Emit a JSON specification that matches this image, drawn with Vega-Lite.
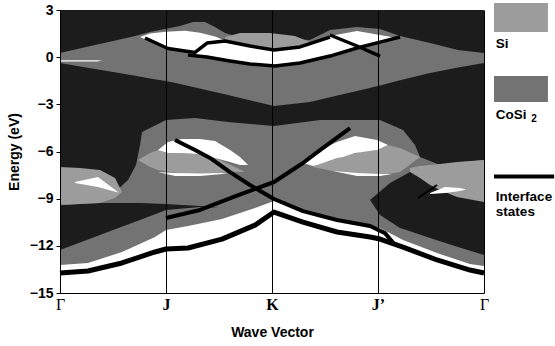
{
  "$schema": "https://vega.github.io/schema/vega-lite/v6.json",
  "padding": {"left": 7, "top": 3, "right": 0, "bottom": 0},
  "background": "white",
  "config": {
    "view": {"stroke": null},
    "font": "Liberation Sans",
    "axis": {"labelColor": "black", "titleColor": "black", "domainColor": "black", "tickColor": "black"}
  },
  "datasets": {
    "regions": [
      {"r":"bg","kind":"bg","k":0,"e":3,"e2":-15},{"r":"bg","kind":"bg","k":4,"e":3,"e2":-15},

      {"r":"cup","kind":"cosi","k":0,"e":0.27,"e2":-0.37},
      {"r":"cup","kind":"cosi","k":0.245,"e":0.65,"e2":-0.66},
      {"r":"cup","kind":"cosi","k":0.5,"e":1.03,"e2":-0.94},
      {"r":"cup","kind":"cosi","k":0.708,"e":1.35,"e2":-1.18},
      {"r":"cup","kind":"cosi","k":0.849,"e":1.60,"e2":-1.35},
      {"r":"cup","kind":"cosi","k":1.0,"e":1.80,"e2":-1.52},
      {"r":"cup","kind":"cosi","k":1.132,"e":1.98,"e2":-1.71},
      {"r":"cup","kind":"cosi","k":1.255,"e":2.24,"e2":-1.90},
      {"r":"cup","kind":"cosi","k":1.368,"e":2.24,"e2":-2.07},
      {"r":"cup","kind":"cosi","k":1.462,"e":1.92,"e2":-2.21},
      {"r":"cup","kind":"cosi","k":1.557,"e":1.54,"e2":-2.36},
      {"r":"cup","kind":"cosi","k":1.651,"e":1.35,"e2":-2.51},
      {"r":"cup","kind":"cosi","k":2.019,"e":1.22,"e2":-3.11},
      {"r":"cup","kind":"cosi","k":2.358,"e":1.09,"e2":-2.85},
      {"r":"cup","kind":"cosi","k":2.547,"e":1.73,"e2":-2.55},
      {"r":"cup","kind":"cosi","k":2.802,"e":1.92,"e2":-2.15},
      {"r":"cup","kind":"cosi","k":3.019,"e":1.79,"e2":-1.80},
      {"r":"cup","kind":"cosi","k":3.208,"e":1.35,"e2":-1.47},
      {"r":"cup","kind":"cosi","k":3.491,"e":0.90,"e2":-1.01},
      {"r":"cup","kind":"cosi","k":3.755,"e":0.46,"e2":-0.65},
      {"r":"cup","kind":"cosi","k":4.0,"e":0.27,"e2":-0.37},

      {"r":"cbig","kind":"cosi","k":0,"e":-9.40,"e2":-14},
      {"r":"cbig","kind":"cosi","k":0.377,"e":-9.09,"e2":-14},
      {"r":"cbig","kind":"cosi","k":0.519,"e":-8.58,"e2":-14},
      {"r":"cbig","kind":"cosi","k":0.642,"e":-7.81,"e2":-14},
      {"r":"cbig","kind":"cosi","k":0.717,"e":-6.86,"e2":-14},
      {"r":"cbig","kind":"cosi","k":0.755,"e":-5.59,"e2":-14},
      {"r":"cbig","kind":"cosi","k":0.774,"e":-4.76,"e2":-14},
      {"r":"cbig","kind":"cosi","k":1.0,"e":-4.00,"e2":-14},
      {"r":"cbig","kind":"cosi","k":1.274,"e":-3.87,"e2":-14},
      {"r":"cbig","kind":"cosi","k":1.585,"e":-4.12,"e2":-14},
      {"r":"cbig","kind":"cosi","k":2.019,"e":-4.38,"e2":-14},
      {"r":"cbig","kind":"cosi","k":2.453,"e":-4.00,"e2":-14},
      {"r":"cbig","kind":"cosi","k":3.019,"e":-4.00,"e2":-14},
      {"r":"cbig","kind":"cosi","k":3.236,"e":-4.63,"e2":-14},
      {"r":"cbig","kind":"cosi","k":3.349,"e":-5.59,"e2":-14},
      {"r":"cbig","kind":"cosi","k":3.396,"e":-6.35,"e2":-14},
      {"r":"cbig","kind":"cosi","k":3.585,"e":-6.86,"e2":-14},
      {"r":"cbig","kind":"cosi","k":4.0,"e":-6.54,"e2":-14},

      {"r":"lw","kind":"lw","k":0,"e":-13.22,"e2":-15},
      {"r":"lw","kind":"lw","k":0.264,"e":-13.09,"e2":-15},
      {"r":"lw","kind":"lw","k":0.585,"e":-12.39,"e2":-15},
      {"r":"lw","kind":"lw","k":0.896,"e":-11.44,"e2":-15},
      {"r":"lw","kind":"lw","k":1.0,"e":-10.99,"e2":-15},
      {"r":"lw","kind":"lw","k":1.208,"e":-10.74,"e2":-15},
      {"r":"lw","kind":"lw","k":1.528,"e":-10.30,"e2":-15},
      {"r":"lw","kind":"lw","k":1.840,"e":-9.60,"e2":-15},
      {"r":"lw","kind":"lw","k":2.019,"e":-9.15,"e2":-15},
      {"r":"lw","kind":"lw","k":2.292,"e":-9.79,"e2":-15},
      {"r":"lw","kind":"lw","k":2.613,"e":-10.36,"e2":-15},
      {"r":"lw","kind":"lw","k":2.925,"e":-10.74,"e2":-15},
      {"r":"lw","kind":"lw","k":3.019,"e":-10.87,"e2":-15},
      {"r":"lw","kind":"lw","k":3.236,"e":-11.63,"e2":-15},
      {"r":"lw","kind":"lw","k":3.557,"e":-12.46,"e2":-15},
      {"r":"lw","kind":"lw","k":3.868,"e":-13.16,"e2":-15},
      {"r":"lw","kind":"lw","k":4.0,"e":-13.28,"e2":-15},

      {"r":"dlow","kind":"dark","k":0,"e":-9.40,"e2":-12.27},
      {"r":"dlow","kind":"dark","k":0.377,"e":-9.28,"e2":-11.31},
      {"r":"dlow","kind":"dark","k":0.5,"e":-9.28,"e2":-10.99},
      {"r":"dlow","kind":"dark","k":0.755,"e":-9.28,"e2":-10.36},
      {"r":"dlow","kind":"dark","k":1.0,"e":-9.34,"e2":-9.72},
      {"r":"dlow","kind":"dark","k":1.321,"e":-9.47,"e2":-9.53},
      {"r":"dlow","kind":"dark","k":1.509,"e":-9.56,"e2":-9.56},
      {"r":"dright","kind":"dark","k":2.925,"e":-9.09,"e2":-9.09},
      {"r":"dright","kind":"dark","k":3.019,"e":-8.55,"e2":-10.04},
      {"r":"dright","kind":"dark","k":3.113,"e":-8.01,"e2":-10.45},
      {"r":"dright","kind":"dark","k":3.208,"e":-7.66,"e2":-10.87},
      {"r":"dright","kind":"dark","k":3.302,"e":-7.31,"e2":-11.08},
      {"r":"dright","kind":"dark","k":3.491,"e":-7.13,"e2":-11.50},
      {"r":"dright","kind":"dark","k":3.585,"e":-7.05,"e2":-11.71},
      {"r":"dright","kind":"dark","k":3.755,"e":-6.99,"e2":-12.08},
      {"r":"dright","kind":"dark","k":4.0,"e":-6.86,"e2":-12.58},

      {"r":"sitop","kind":"si","k":1.557,"e":1.28,"e2":1.03},
      {"r":"sitop","kind":"si","k":1.698,"e":1.54,"e2":0.84},
      {"r":"sitop","kind":"si","k":1.981,"e":1.54,"e2":0.46},
      {"r":"sitop","kind":"si","k":2.217,"e":1.35,"e2":0.46},
      {"r":"sitop","kind":"si","k":2.406,"e":0.84,"e2":0.84},
      {"r":"si0","kind":"si","k":0,"e":-6.99,"e2":-9.40},
      {"r":"si0","kind":"si","k":0.189,"e":-7.05,"e2":-9.34},
      {"r":"si0","kind":"si","k":0.377,"e":-7.18,"e2":-9.28},
      {"r":"si0","kind":"si","k":0.519,"e":-7.69,"e2":-8.96},
      {"r":"si0","kind":"si","k":0.585,"e":-8.58,"e2":-8.58},
      {"r":"si1","kind":"si","k":0.736,"e":-6.54,"e2":-6.54},
      {"r":"si1","kind":"si","k":0.849,"e":-6.10,"e2":-6.99},
      {"r":"si1","kind":"si","k":0.925,"e":-5.91,"e2":-7.18},
      {"r":"si1","kind":"si","k":1.038,"e":-5.91,"e2":-7.31},
      {"r":"si1","kind":"si","k":1.226,"e":-6.03,"e2":-7.43},
      {"r":"si1","kind":"si","k":1.368,"e":-6.22,"e2":-7.43},
      {"r":"si1","kind":"si","k":1.509,"e":-6.54,"e2":-7.37},
      {"r":"si1","kind":"si","k":1.651,"e":-6.99,"e2":-7.31},
      {"r":"si1","kind":"si","k":1.745,"e":-7.31,"e2":-7.31},
      {"r":"si2","kind":"si","k":2.387,"e":-6.92,"e2":-6.99},
      {"r":"si2","kind":"si","k":2.613,"e":-6.41,"e2":-7.31},
      {"r":"si2","kind":"si","k":2.830,"e":-6.03,"e2":-7.50},
      {"r":"si2","kind":"si","k":2.991,"e":-5.91,"e2":-7.50},
      {"r":"si2","kind":"si","k":3.094,"e":-5.59,"e2":-7.43},
      {"r":"si2","kind":"si","k":3.208,"e":-5.78,"e2":-7.31},
      {"r":"si2","kind":"si","k":3.396,"e":-6.35,"e2":-6.35},
      {"r":"si3","kind":"si","k":3.302,"e":-7.05,"e2":-7.31},
      {"r":"si3","kind":"si","k":3.396,"e":-6.92,"e2":-7.69},
      {"r":"si3","kind":"si","k":3.491,"e":-6.86,"e2":-8.13},
      {"r":"si3","kind":"si","k":3.585,"e":-6.80,"e2":-8.45},
      {"r":"si3","kind":"si","k":3.745,"e":-6.67,"e2":-8.90},
      {"r":"si3","kind":"si","k":4.0,"e":-6.54,"e2":-9.21},

      {"r":"wtop","kind":"white","k":0.755,"e":1.28,"e2":1.28},
      {"r":"wtop","kind":"white","k":0.849,"e":1.50,"e2":1.00},
      {"r":"wtop","kind":"white","k":1.0,"e":1.62,"e2":0.58},
      {"r":"wtop","kind":"white","k":1.179,"e":1.68,"e2":0.33},
      {"r":"wtop","kind":"white","k":1.321,"e":1.56,"e2":0.07},
      {"r":"wtop","kind":"white","k":1.462,"e":1.32,"e2":-0.05},
      {"r":"wtop","kind":"white","k":1.557,"e":1.06,"e2":-0.15},
      {"r":"wtop","kind":"white","k":1.792,"e":0.71,"e2":-0.37},
      {"r":"wtop","kind":"white","k":2.019,"e":0.46,"e2":-0.56},
      {"r":"wtop","kind":"white","k":2.264,"e":0.65,"e2":-0.37},
      {"r":"wtop","kind":"white","k":2.547,"e":1.35,"e2":0.07},
      {"r":"wtop","kind":"white","k":2.802,"e":1.66,"e2":0.58},
      {"r":"wtop","kind":"white","k":3.019,"e":1.41,"e2":0.96},
      {"r":"wtop","kind":"white","k":3.179,"e":1.22,"e2":1.22},
      {"r":"wl0","kind":"white","k":0,"e":-0.20,"e2":-0.27},
      {"r":"wl0","kind":"white","k":0.35,"e":-0.20,"e2":-0.27},
      {"r":"wl0","kind":"white","k":0.4,"e":-0.235,"e2":-0.235},
      {"r":"wmid1","kind":"white","k":0.925,"e":-5.91,"e2":-5.91},
      {"r":"wmid1","kind":"white","k":1.019,"e":-5.40,"e2":-6.10},
      {"r":"wmid1","kind":"white","k":1.151,"e":-5.21,"e2":-6.10},
      {"r":"wmid1","kind":"white","k":1.321,"e":-5.21,"e2":-6.16},
      {"r":"wmid1","kind":"white","k":1.462,"e":-5.33,"e2":-6.41},
      {"r":"wmid1","kind":"white","k":1.604,"e":-5.91,"e2":-6.67},
      {"r":"wmid1","kind":"white","k":1.698,"e":-6.35,"e2":-6.86},
      {"r":"wmid1","kind":"white","k":1.774,"e":-6.86,"e2":-6.86},
      {"r":"wmid2","kind":"white","k":2.292,"e":-6.61,"e2":-6.73},
      {"r":"wmid2","kind":"white","k":2.387,"e":-6.22,"e2":-6.92},
      {"r":"wmid2","kind":"white","k":2.453,"e":-5.91,"e2":-6.80},
      {"r":"wmid2","kind":"white","k":2.613,"e":-5.40,"e2":-6.41},
      {"r":"wmid2","kind":"white","k":2.670,"e":-5.27,"e2":-6.35},
      {"r":"wmid2","kind":"white","k":2.783,"e":-5.02,"e2":-6.10},
      {"r":"wmid2","kind":"white","k":2.991,"e":-5.27,"e2":-5.91},
      {"r":"wmid2","kind":"white","k":3.094,"e":-5.59,"e2":-5.59},
      {"r":"wtri","kind":"white","k":0.142,"e":-7.94,"e2":-8.01},
      {"r":"wtri","kind":"white","k":0.358,"e":-7.62,"e2":-8.26},
      {"r":"wtri","kind":"white","k":0.547,"e":-8.58,"e2":-8.61},
      {"r":"wtri2","kind":"white","k":3.491,"e":-8.64,"e2":-8.70},
      {"r":"wtri2","kind":"white","k":3.632,"e":-8.26,"e2":-8.64},
      {"r":"wtri2","kind":"white","k":3.774,"e":-8.32,"e2":-8.51},
      {"r":"wtri2","kind":"white","k":3.83,"e":-8.42,"e2":-8.42},
      {"r":"slv1","kind":"white","k":0.925,"e":-7.31,"e2":-7.31},
      {"r":"slv1","kind":"white","k":1.085,"e":-7.37,"e2":-7.56},
      {"r":"slv1","kind":"white","k":1.321,"e":-7.40,"e2":-7.56},
      {"r":"slv1","kind":"white","k":1.509,"e":-7.37,"e2":-7.45},
      {"r":"slv1","kind":"white","k":1.585,"e":-7.40,"e2":-7.40},
      {"r":"slv2","kind":"white","k":2.575,"e":-7.24,"e2":-7.24},
      {"r":"slv2","kind":"white","k":2.802,"e":-7.37,"e2":-7.56},
      {"r":"slv2","kind":"white","k":3.019,"e":-7.43,"e2":-7.56},
      {"r":"slv2","kind":"white","k":3.132,"e":-7.43,"e2":-7.43}
    ],
    "lines": [
      {"line":"LL","k":0,"e":-13.73},{"line":"LL","k":0.264,"e":-13.60},{"line":"LL","k":0.585,"e":-13.09},
      {"line":"LL","k":0.896,"e":-12.39},{"line":"LL","k":1.0,"e":-12.20},{"line":"LL","k":1.208,"e":-12.14},
      {"line":"LL","k":1.528,"e":-11.57},{"line":"LL","k":1.840,"e":-10.68},{"line":"LL","k":2.019,"e":-9.85},
      {"line":"LL","k":2.292,"e":-10.49},{"line":"LL","k":2.613,"e":-11.12},{"line":"LL","k":2.925,"e":-11.44},
      {"line":"LL","k":3.019,"e":-11.57},{"line":"LL","k":3.236,"e":-12.08},{"line":"LL","k":3.557,"e":-12.90},
      {"line":"LL","k":3.868,"e":-13.54},{"line":"LL","k":4.0,"e":-13.73},
      {"line":"LU","k":1.085,"e":-5.27},{"line":"LU","k":1.274,"e":-5.91},{"line":"LU","k":1.415,"e":-6.41},
      {"line":"LU","k":1.604,"e":-7.31},{"line":"LU","k":1.792,"e":-8.13},{"line":"LU","k":2.019,"e":-9.02},
      {"line":"LU","k":2.292,"e":-9.79},{"line":"LU","k":2.613,"e":-10.36},{"line":"LU","k":2.925,"e":-10.74},
      {"line":"LU","k":3.066,"e":-11.19},{"line":"LU","k":3.15,"e":-11.85},
      {"line":"LX","k":1.0,"e":-10.23},{"line":"LX","k":1.321,"e":-9.72},{"line":"LX","k":1.632,"e":-8.90},
      {"line":"LX","k":2.019,"e":-7.94},{"line":"LX","k":2.292,"e":-6.73},{"line":"LX","k":2.453,"e":-5.91},
      {"line":"LX","k":2.736,"e":-4.51},
      {"line":"L1","k":0.802,"e":1.22},{"line":"L1","k":1.019,"e":0.55},{"line":"L1","k":1.274,"e":0.30},
      {"line":"L1","k":1.387,"e":0.90},{"line":"L1","k":1.557,"e":1.03},{"line":"L1","k":1.792,"e":0.71},
      {"line":"L1","k":2.019,"e":0.46},{"line":"L1","k":2.264,"e":0.65},{"line":"L1","k":2.547,"e":1.28},
      {"line":"L2","k":1.208,"e":0.14},{"line":"L2","k":1.387,"e":0.01},{"line":"L2","k":1.604,"e":-0.24},
      {"line":"L2","k":1.792,"e":-0.43},{"line":"L2","k":2.028,"e":-0.56},{"line":"L2","k":2.264,"e":-0.37},
      {"line":"L2","k":2.547,"e":0.07},{"line":"L2","k":2.802,"e":0.58},{"line":"L2","k":3.019,"e":0.96},
      {"line":"L2","k":3.208,"e":1.28},
      {"line":"LB","k":2.547,"e":1.41},{"line":"LB","k":2.802,"e":0.71},{"line":"LB","k":3.019,"e":0.07},
      {"line":"thin","k":3.377,"e":-8.96},{"line":"thin","k":3.557,"e":-8.13}
    ]
  },
  "hconcat": [
    {
      "width": 424,
      "height": 283,
      "encoding": {
        "x": {
          "field": "k", "type": "quantitative",
          "scale": {"domain": [0, 4], "nice": false, "zero": false},
          "axis": {
            "values": [0, 1, 2, 3, 4],
            "labelExpr": "['Γ','J','K','J’','Γ'][datum.value]",
            "labelFont": "Liberation Serif", "labelFontSize": 16,
            "labelFontWeight": {"condition": {"test": "datum.value == 0 || datum.value == 4", "value": "normal"}, "value": "bold"},
            "labelPadding": 3, "ticks": false, "domain": true, "domainWidth": 1,
            "grid": true, "gridColor": "black", "gridOpacity": 1, "gridWidth": 1,
            "zindex": 1, "labelFlush": false,
            "title": "Wave Vector", "titleFont": "Liberation Sans", "titleFontSize": 14, "titleFontWeight": "bold", "titlePadding": 13
          }
        },
        "y": {
          "field": "e", "type": "quantitative",
          "scale": {"domain": [-15, 3], "nice": false, "zero": false},
          "axis": {
            "values": [3, 0, -3, -6, -9, -12, -15],
            "title": "Energy (eV)", "titleFontSize": 14, "titleFontWeight": "bold", "titlePadding": 8,
            "labelFontSize": 14, "labelFontWeight": "bold", "labelPadding": 3, "tickSize": 4,
            "grid": false, "zindex": 1, "labelFlush": false
          }
        }
      },
      "layer": [
        {"data": {"name": "regions"}, "transform": [{"filter": "datum.kind === 'bg'"}],
         "mark": {"type": "area", "color": "#1c1c1c", "opacity": 1},
         "encoding": {"y2": {"field": "e2"}, "detail": {"field": "r"}}},
        {"data": {"name": "regions"}, "transform": [{"filter": "datum.kind === 'cosi'"}],
         "mark": {"type": "area", "color": "#737373", "opacity": 1},
         "encoding": {"y2": {"field": "e2"}, "detail": {"field": "r"}}},
        {"data": {"name": "regions"}, "transform": [{"filter": "datum.kind === 'lw'"}],
         "mark": {"type": "area", "color": "#ffffff", "opacity": 1},
         "encoding": {"y2": {"field": "e2"}, "detail": {"field": "r"}}},
        {"data": {"name": "regions"}, "transform": [{"filter": "datum.kind === 'dark'"}],
         "mark": {"type": "area", "color": "#1c1c1c", "opacity": 1},
         "encoding": {"y2": {"field": "e2"}, "detail": {"field": "r"}}},
        {"data": {"name": "regions"}, "transform": [{"filter": "datum.kind === 'si'"}],
         "mark": {"type": "area", "color": "#9c9c9c", "opacity": 1},
         "encoding": {"y2": {"field": "e2"}, "detail": {"field": "r"}}},
        {"data": {"name": "regions"}, "transform": [{"filter": "datum.kind === 'white'"}],
         "mark": {"type": "area", "color": "#ffffff", "opacity": 1},
         "encoding": {"y2": {"field": "e2"}, "detail": {"field": "r"}}},
        {"data": {"name": "lines"}, "transform": [{"filter": "datum.line === 'LL'"}],
         "mark": {"type": "line", "color": "black", "strokeWidth": 5, "strokeJoin": "round"},
         "encoding": {"detail": {"field": "line"}}},
        {"data": {"name": "lines"}, "transform": [{"filter": "datum.line === 'LU' || datum.line === 'LX'"}],
         "mark": {"type": "line", "color": "black", "strokeWidth": 4, "strokeJoin": "round"},
         "encoding": {"detail": {"field": "line"}}},
        {"data": {"name": "lines"}, "transform": [{"filter": "datum.line === 'L1' || datum.line === 'L2' || datum.line === 'LB'"}],
         "mark": {"type": "line", "color": "black", "strokeWidth": 3.5, "strokeJoin": "round"},
         "encoding": {"detail": {"field": "line"}}},
        {"data": {"name": "lines"}, "transform": [{"filter": "datum.line === 'thin'"}],
         "mark": {"type": "line", "color": "black", "strokeWidth": 2},
         "encoding": {"detail": {"field": "line"}}}
      ]
    },
    {
      "width": 62,
      "height": 283,
      "data": {"values": [{"item": "Si"}, {"item": "CoSi2"}, {"item": "Interface states"}]},
      "layer": [
        {"transform": [{"filter": "datum.item === 'Si'"}],
         "mark": {"type": "rect", "color": "#9c9c9c"},
         "encoding": {
           "x": {"datum": 0, "type": "quantitative", "scale": {"domain": [0, 1]}, "axis": null},
           "x2": {"datum": 0.87},
           "y": {"datum": 3.44, "type": "quantitative", "scale": {"domain": [-15, 3], "nice": false}, "axis": null},
           "y2": {"datum": 1.6}}},
        {"transform": [{"filter": "datum.item === 'Si'"}],
         "mark": {"type": "text", "align": "left", "baseline": "middle", "font": "Liberation Sans", "fontWeight": "bold", "fontSize": 13.5},
         "encoding": {"x": {"datum": 0.03, "type": "quantitative"}, "y": {"datum": 0.84, "type": "quantitative"}, "text": {"field": "item"}}},
        {"transform": [{"filter": "datum.item === 'CoSi2'"}],
         "mark": {"type": "rect", "color": "#737373"},
         "encoding": {"x": {"datum": 0, "type": "quantitative"}, "x2": {"datum": 0.87},
           "y": {"datum": -1.2, "type": "quantitative"}, "y2": {"datum": -2.85}}},
        {"transform": [{"filter": "datum.item === 'CoSi2'"}],
         "mark": {"type": "text", "align": "left", "baseline": "middle", "font": "Liberation Sans", "fontWeight": "bold", "fontSize": 13.5},
         "encoding": {"x": {"datum": 0.03, "type": "quantitative"}, "y": {"datum": -3.68, "type": "quantitative"}, "text": {"value": "CoSi"}}},
        {"transform": [{"filter": "datum.item === 'CoSi2'"}],
         "mark": {"type": "text", "align": "left", "baseline": "middle", "font": "Liberation Sans", "fontWeight": "bold", "fontSize": 10},
         "encoding": {"x": {"datum": 0.6, "type": "quantitative"}, "y": {"datum": -3.95, "type": "quantitative"}, "text": {"value": "2"}}},
        {"transform": [{"filter": "datum.item === 'Interface states'"}],
         "mark": {"type": "rule", "color": "black", "strokeWidth": 4},
         "encoding": {"x": {"datum": 0, "type": "quantitative"}, "x2": {"datum": 0.97}, "y": {"datum": -7.59, "type": "quantitative"}}},
        {"transform": [{"filter": "datum.item === 'Interface states'"}],
         "mark": {"type": "text", "align": "left", "baseline": "middle", "font": "Liberation Sans", "fontWeight": "bold", "fontSize": 13.5},
         "encoding": {"x": {"datum": 0.03, "type": "quantitative"}, "y": {"datum": -8.9, "type": "quantitative"}, "text": {"value": "Interface"}}},
        {"transform": [{"filter": "datum.item === 'Interface states'"}],
         "mark": {"type": "text", "align": "left", "baseline": "middle", "font": "Liberation Sans", "fontWeight": "bold", "fontSize": 13.5},
         "encoding": {"x": {"datum": 0.03, "type": "quantitative"}, "y": {"datum": -9.85, "type": "quantitative"}, "text": {"value": "states"}}}
      ]
    }
  ],
  "spacing": 3
}
